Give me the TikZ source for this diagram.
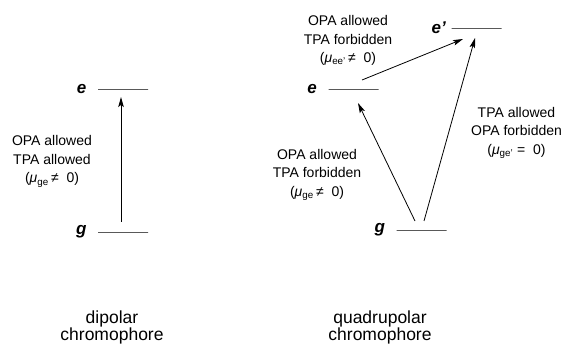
\documentclass[tikz,border=0pt]{standalone}
\usepackage{fontspec}
\setmainfont{Liberation Sans}
\usepackage{tikz}
\usetikzlibrary{positioning, arrows.meta, calc}
\tikzset{
  level/.style={rectangle, draw, line width=0.8pt, minimum width=50pt, minimum height=0pt, inner sep=0pt},
  state/.style={inner sep=1pt, font=\fontsize{17}{17}\selectfont\bfseries\itshape},
  note/.style={align=center, inner sep=0pt, font=\fontsize{14}{18.5}\selectfont},
  caption/.style={align=center, inner sep=0pt, font=\fontsize{17.5}{17.5}\selectfont},
  arrow/.style={line width=0.8pt, -{Stealth[length=10pt, width=5.5pt, inset=2pt]}}
}
\newcommand{\dip}[1]{\textit{μ}\textsubscript{#1}}

\begin{document}
\begin{tikzpicture}[x=1pt, y=1pt]
        \useasboundingbox (0,0) rectangle (564,345);

        % dipolar chromophore
        \node (gL) [level] at (123,113) {};
        \node (eL) [level] at (123,256) {};
        \node (gLlab) [state, left=10pt of gL] {g};
        \node (eLlab) [state, left=10pt of eL] {e};
        \node (noteL) [note] at (52,183.5) {OPA allowed\\TPA allowed\\(\dip{ge}\,≠\ \ 0)};
        \node (capL) [caption] at (112,17.5) {dipolar\\chromophore};

        \draw [arrow] ([shift={(-2,10)}]gL.center) -- ([shift={(-2,-8)}]eL.center);

        % quadrupolar chromophore
        \node (gR) [level] at (421.5,115) {};
        \node (eR) [level] at (353.5,256) {};
        \node (fR) [level] at (476.5,317) {};
        \node (gRlab) [state, left=10pt of gR] {g};
        \node (eRlab) [state, left=10pt of eR] {e};
        \node (fRlab) [state, left=4pt of fR] {e'};
        \node (noteTop) [note] at (348,304.5) {OPA allowed\\TPA forbidden\\(\dip{ee'}\,≠\ \ 0)};
        \node (noteMid) [note] at (317,170) {OPA allowed\\TPA forbidden\\(\dip{ge}\,≠\ \ 0)};
        \node (noteRight) [note] at (516.5,212) {TPA allowed\\OPA forbidden\\(\dip{ge'}\ =\ \ 0)};
        \node (capR) [caption] at (380,17.5) {quadrupolar\\chromophore};

        \draw [arrow] ([shift={(-6.5,9)}]gR.center) -- ([shift={(4.5,-14)}]eR.center);
        \draw [arrow] ([shift={(2.5,9)}]gR.center) -- ([shift={(-1.5,-10)}]fR.center);
        \draw [arrow] ([shift={(8.5,9)}]eR.center) -- ([shift={(-13.5,-11)}]fR.center);
    \end{tikzpicture}
\end{document}
